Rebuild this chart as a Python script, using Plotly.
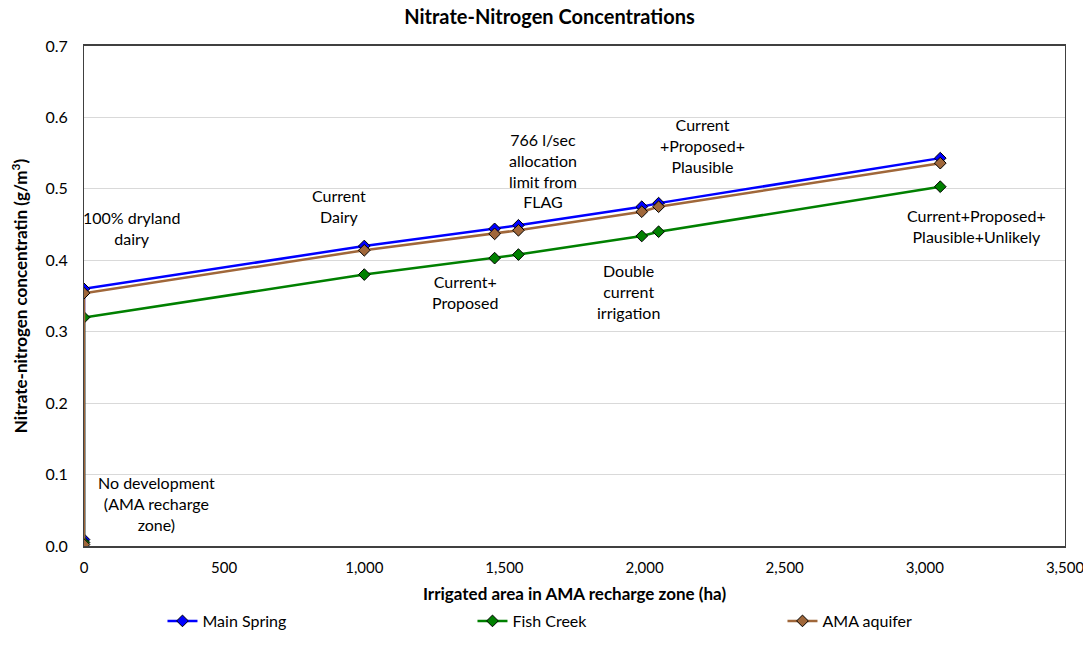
import plotly.graph_objects as go

# Irrigated area (ha) and nitrate-nitrogen concentration (g/m3) for each scenario
area = [0, 0, 1000, 1465, 1550, 1990, 2050, 3055]
main_spring = [0.009, 0.360, 0.420, 0.444, 0.449, 0.475, 0.480, 0.543]
fish_creek = [0.005, 0.320, 0.380, 0.403, 0.408, 0.434, 0.440, 0.503]
ama_aquifer = [0.002, 0.354, 0.414, 0.437, 0.442, 0.468, 0.475, 0.536]

labels = [
    ("100% dryland<br>dairy", 170, 0.445),
    ("Current<br>Dairy", 910, 0.476),
    ("766 l/sec<br>allocation<br>limit from<br>FLAG", 1638, 0.526),
    ("Current<br>+Proposed+<br>Plausible", 2205, 0.561),
    ("Current+Proposed+<br>Plausible+Unlikely", 3183, 0.448),
    ("Current+<br>Proposed", 1360, 0.356),
    ("Double<br>current<br>irrigation", 1941, 0.356),
    ("No development<br>(AMA recharge<br>zone)", 260, 0.060),
]

font = "Lato, Open Sans, sans-serif"

fig = go.Figure()

series = [
    ("Main Spring", main_spring, "#0000FF"),
    ("Fish Creek", fish_creek, "#008000"),
    ("AMA aquifer", ama_aquifer, "#A0673A"),
]
for name, vals, col in series:
    fig.add_trace(go.Scatter(
        x=area, y=vals, mode="lines+markers", name=name,
        line=dict(color=col, width=2.5),
        marker=dict(symbol="diamond", size=9, color=col, line=dict(color="black", width=1)),
    ))

for txt, x, y in labels:
    fig.add_annotation(x=x, y=y, text=txt, showarrow=False,
                       font=dict(size=16, color="black", family=font))

# page body has an 8px margin; keep the page short enough that no scrollbar appears
fig.update_layout(
    width=1083, height=630,
    paper_bgcolor="white", plot_bgcolor="white",
    margin=dict(l=76, r=26, t=38, b=92, autoexpand=False),
    font=dict(family=font, size=16, color="black"),
    title=dict(text="<b>Nitrate-Nitrogen Concentrations</b>", x=0.5, xanchor="center",
               y=0.985, yanchor="middle", font=dict(size=20)),
    legend=dict(orientation="h", x=0.08, xanchor="left", yref="container", y=0.0,
                yanchor="bottom", entrywidth=265, font=dict(size=16)),
    xaxis=dict(range=[0, 3500], dtick=500, tickformat=",d", showgrid=False,
               showline=True, linecolor="#404040", linewidth=1.5, mirror=True,
               zeroline=False, ticks="", ticklabelstandoff=7, automargin=False,
               ticklabeloverflow="allow", tickfont=dict(size=15),
               title=dict(text="<b>Irrigated area in AMA recharge zone (ha)</b>", standoff=22,
                          font=dict(size=17))),
    yaxis=dict(range=[0, 0.7], dtick=0.1, tickformat=".1f", showgrid=True,
               gridcolor="#D9D9D9", showline=True, linecolor="#404040", linewidth=1,
               mirror=True, zeroline=False, ticks="", ticklabelstandoff=12, automargin=False,
               title=dict(text="<b>Nitrate-nitrogen concentratin (g/m<sup>3</sup>)</b>",
                          standoff=14, font=dict(size=17))),
)

fig.write_html("out.html")
